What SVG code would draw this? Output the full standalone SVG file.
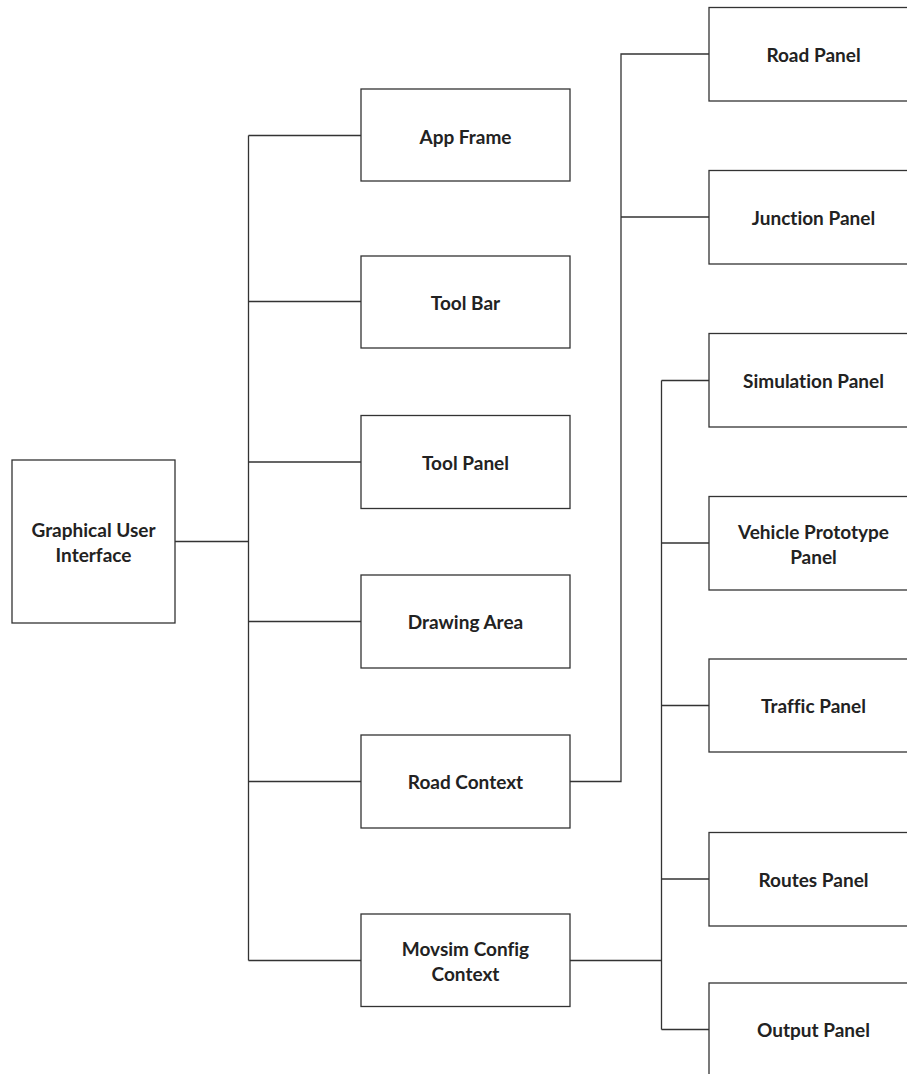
<svg xmlns="http://www.w3.org/2000/svg" width="907" height="1074" viewBox="0 0 907 1074">
<style>
.box{fill:#fff;stroke:#333;stroke-width:1.3}
.lbl{font-family:Lato,"Liberation Sans",sans-serif;font-weight:bold;font-size:19px;fill:#222;text-anchor:middle;dominant-baseline:central;font-variant-ligatures:none}
.con{fill:none;stroke:#333;stroke-width:1.3}
</style>
<rect width="907" height="1074" fill="#fff"/>
<g id="connectors" class="con">
<path d="M175,541.5H248.5"/>
<path d="M248.5,135.5V960.5"/>
<path d="M248.5,135.5H361M248.5,301.5H361M248.5,462H361M248.5,621.5H361M248.5,781.5H361M248.5,960.5H361"/>
<path d="M570,781.5H621V54H709M621,217H709"/>
<path d="M570,960.5H661.5"/>
<path d="M661.5,380.5V1029.5"/>
<path d="M661.5,380.5H709M661.5,543H709M661.5,705.5H709M661.5,879H709M661.5,1029.5H709"/>
</g>
<g id="gui"><rect class="box" x="12" y="460" width="163" height="163"/><text class="lbl" x="93.5" y="529">Graphical User</text><text class="lbl" x="93.5" y="554">Interface</text></g>
<g id="app-frame"><rect class="box" x="361" y="89" width="209" height="92"/><text class="lbl" x="465.5" y="136">App Frame</text></g>
<g id="tool-bar"><rect class="box" x="361" y="256" width="209" height="92"/><text class="lbl" x="465.5" y="302">Tool Bar</text></g>
<g id="tool-panel"><rect class="box" x="361" y="415.5" width="209" height="93"/><text class="lbl" x="465.5" y="462">Tool Panel</text></g>
<g id="drawing-area"><rect class="box" x="361" y="575" width="209" height="93"/><text class="lbl" x="465.5" y="621.5">Drawing Area</text></g>
<g id="road-context"><rect class="box" x="361" y="735" width="209" height="93"/><text class="lbl" x="465.5" y="781.5">Road Context</text></g>
<g id="movsim-config-context"><rect class="box" x="361" y="914" width="209" height="92.5"/><text class="lbl" x="465.5" y="948">Movsim Config</text><text class="lbl" x="465.5" y="973">Context</text></g>
<g id="road-panel"><rect class="box" x="709" y="7.5" width="215" height="93.5"/><text class="lbl" x="813.5" y="54">Road Panel</text></g>
<g id="junction-panel"><rect class="box" x="709" y="170.5" width="215" height="93.5"/><text class="lbl" x="813.5" y="217">Junction Panel</text></g>
<g id="simulation-panel"><rect class="box" x="709" y="333.5" width="215" height="93.5"/><text class="lbl" x="813.5" y="380.5">Simulation Panel</text></g>
<g id="vehicle-prototype-panel"><rect class="box" x="709" y="496.5" width="215" height="93.5"/><text class="lbl" x="813.5" y="531">Vehicle Prototype</text><text class="lbl" x="813.5" y="556">Panel</text></g>
<g id="traffic-panel"><rect class="box" x="709" y="659" width="215" height="93"/><text class="lbl" x="813.5" y="705.5">Traffic Panel</text></g>
<g id="routes-panel"><rect class="box" x="709" y="832.5" width="215" height="93.5"/><text class="lbl" x="813.5" y="879">Routes Panel</text></g>
<g id="output-panel"><rect class="box" x="709" y="983" width="215" height="100"/><text class="lbl" x="813.5" y="1029.5">Output Panel</text></g>
</svg>
